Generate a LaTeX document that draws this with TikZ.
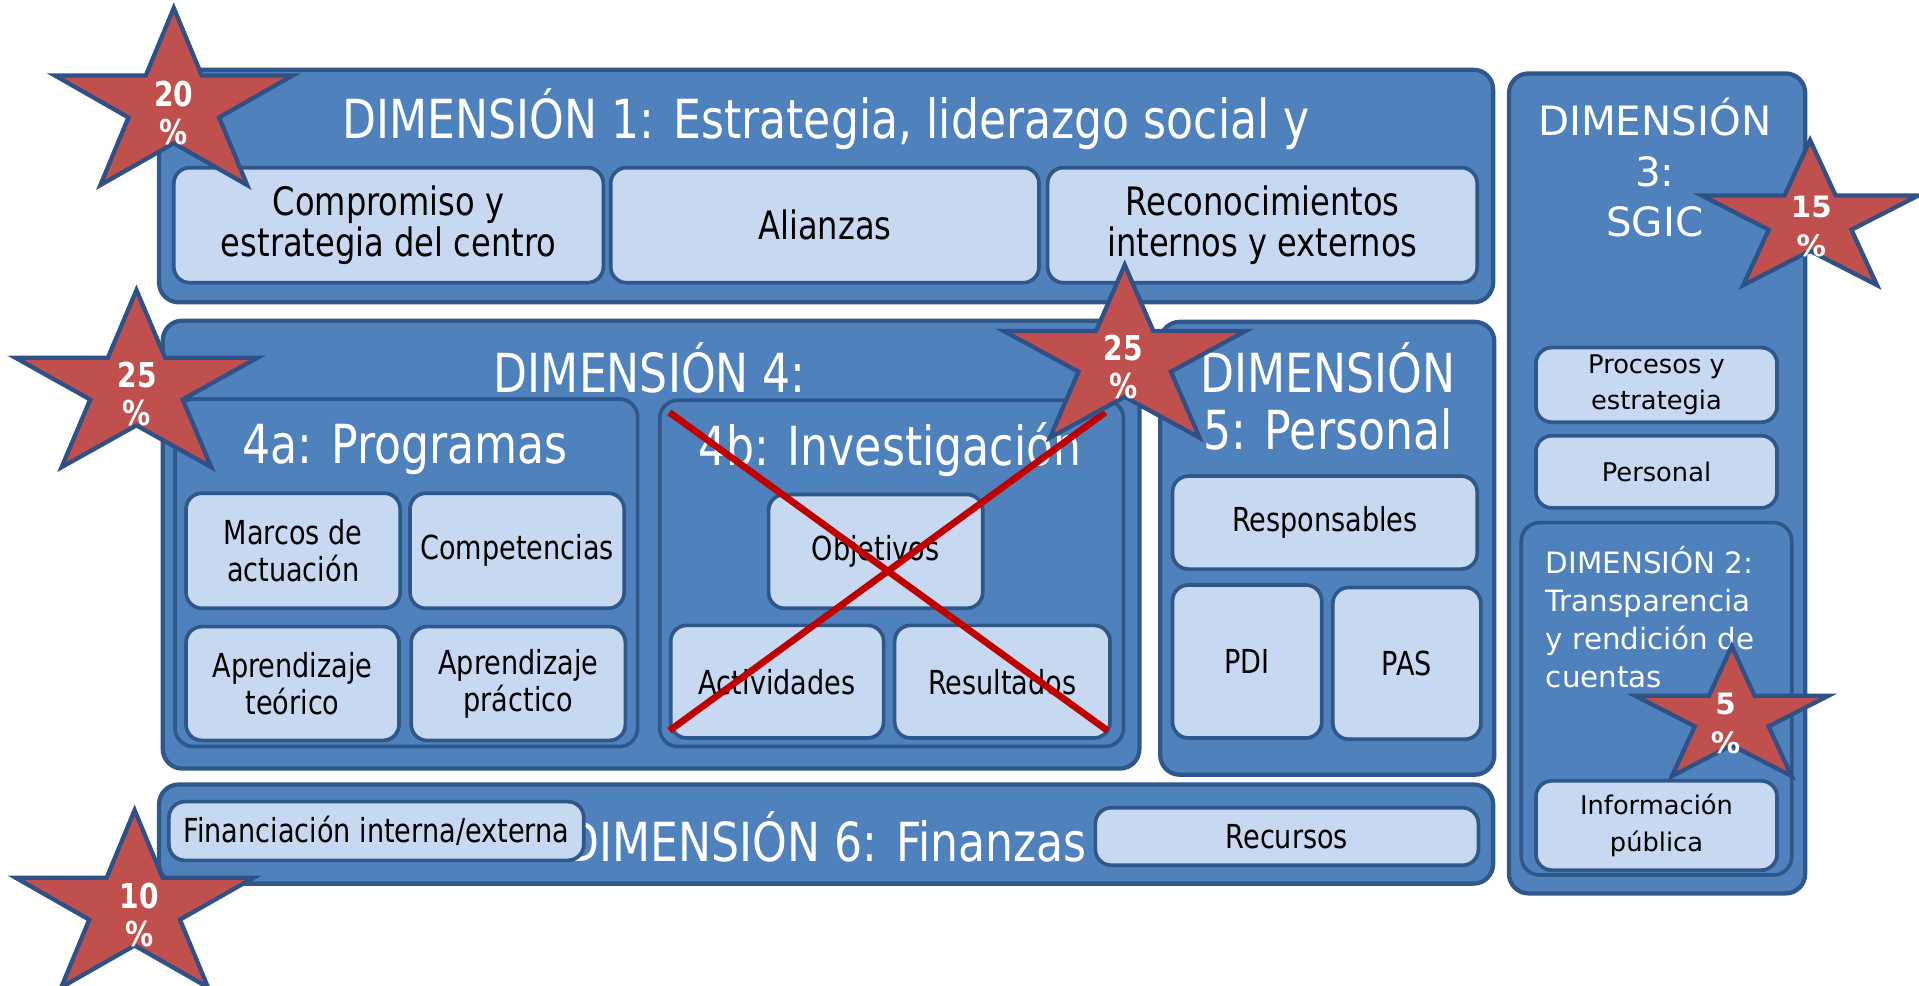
\documentclass[tikz,border=0pt]{standalone}
\usepackage{fontspec}
\setmainfont{DejaVu Sans}
\newfontfamily\narrowfont{DejaVu Sans}[FakeStretch=0.82]
\definecolor{dimension fill}{HTML}{4F81BD}
\definecolor{dimension border}{HTML}{30578A}
\definecolor{item fill}{HTML}{C6D9F1}
\definecolor{star fill}{HTML}{C0504D}
\definecolor{star border}{HTML}{2F5185}
\definecolor{cross color}{HTML}{C00000}
\newcommand\titlefont{\narrowfont\fontsize{44}{47}\selectfont}
\newcommand\itemfont{\narrowfont\fontsize{27}{30}\selectfont}
\newcommand\bigitemfont{\narrowfont\fontsize{32}{34}\selectfont}
\newcommand\sgictitlefont{\fontsize{33}{41}\selectfont}
\newcommand\sgicsubfont{\fontsize{24}{31}\selectfont}
\newcommand\sgicitemfont{\fontsize{21}{30}\selectfont}
\newcommand\starfont{\narrowfont\bfseries\fontsize{28}{31}\selectfont}
\newcommand\sgicstarfont{\bfseries\fontsize{24}{32}\selectfont}
\tikzset{
    x={1pt},
    y={-1pt},
    dimension box/.style={
        draw=dimension border, fill=dimension fill,
        line width={3.5pt},
        rounded corners={16pt},
        inner sep=0pt,
    },
    sub box/.style={
        dimension box,
        line width={3pt},
        rounded corners={15pt},
    },
    item box/.style={
        draw=dimension border, fill=item fill,
        line width={3pt},
        rounded corners={13pt},
        align=center,
        inner sep=0pt,
        font=\itemfont,
    },
    big item/.style={font=\bigitemfont},
    sgic item/.style={font=\sgicitemfont},
    title/.style={
        text=white,
        font=\titlefont,
        align=center,
        inner sep=0pt,
    },
    sgic title/.style={
        title,
        font=\sgictitlefont,
    },
    percent star/.style={
        fill=star fill,
        draw=star border,
        line width={3.5pt},
        line join=miter,
    },
    percent label/.style={
        text=white,
        font=\starfont,
        align=center,
        inner sep=0pt,
    },
    cross line/.style={
        draw=cross color,
        line width={5.5pt},
    },
    pics/star outline/.style={code={
        \path[percent star] (90:1) -- (126:0.382) -- (162:1) -- (198:0.382) -- (234:1)
            -- (270:0.382) -- (306:1) -- (342:0.382) -- (18:1) -- (54:0.382) -- cycle;
    }},
}

\begin{document}
\begin{tikzpicture}
\useasboundingbox (0,0) rectangle (1568,805);
% dimension 1
\node[dimension box, minimum width=1090, minimum height=190] (d1) at (675,152) {};
\node[title] (d1 title) at (675,97) {DIMENSIÓN 1: Estrategia, liderazgo social y};
\node[item box, big item, minimum width=351, minimum height=94] (compromiso) at (317.5,184) {Compromiso y\\estrategia del centro};
\node[item box, big item, minimum width=350, minimum height=94] (alianzas) at (674,184) {Alianzas};
\node[item box, big item, minimum width=351, minimum height=94] (reconocimientos) at (1031.5,184) {Reconocimientos\\internos y externos};
% dimension 4
\node[dimension box, minimum width=798, minimum height=366] (d4) at (532,445) {};
\node[title] (d4 title) at (531,301) {DIMENSIÓN 4:};
\node[sub box, minimum width=378, minimum height=284] (d4a) at (332,468) {};
\node[title] (d4a title) at (331,367) {4a: Programas};
\node[item box, minimum width=175, minimum height=94] (marcos) at (239.5,450) {Marcos de\\actuación};
\node[item box, minimum width=175, minimum height=94] (competencias) at (422.5,450) {Competencias};
\node[item box, minimum width=174, minimum height=93] (teorico) at (239,558.5) {Aprendizaje\\teórico};
\node[item box, minimum width=175, minimum height=93] (practico) at (423.5,558.5) {Aprendizaje\\práctico};
\node[sub box, minimum width=379, minimum height=283] (d4b) at (728.5,468.5) {};
\node[title] (d4b title) at (727,367) {4b: Investigación};
\node[item box, minimum width=175, minimum height=93] (objetivos) at (715.5,450.5) {Objetivos};
\node[item box, minimum width=174, minimum height=92] (actividades) at (635,557) {Actividades};
\node[item box, minimum width=176, minimum height=92] (resultados) at (819,557) {Resultados};
% dimension 5
\node[dimension box, minimum width=273, minimum height=370] (d5) at (1084.5,448) {};
\node[title] (d5 title) at (1085,324) {DIMENSIÓN\\5: Personal};
\node[item box, minimum width=249, minimum height=76] (responsables) at (1082.5,427) {Responsables};
\node[item box, minimum width=122, minimum height=125] (pdi) at (1019,540.5) {PDI};
\node[item box, minimum width=121, minimum height=124] (pas) at (1149.5,542) {PAS};
% dimension 6
\node[dimension box, minimum width=1090, minimum height=81] (d6) at (675,681.5) {};
\node[title] (d6 title) at (675,684) {DIMENSIÓN 6: Finanzas};
\node[item box, minimum width=339, minimum height=48] (financiacion) at (307.5,679) {Financiación interna/externa};
\node[item box, minimum width=313, minimum height=47] (recursos) at (1051.5,683.5) {Recursos};
% dimension 3 and 2
\node[dimension box, minimum width=242, minimum height=670] (d3) at (1354,395) {};
\node[sgic title] (d3 title) at (1352,137) {DIMENSIÓN\\3:\\SGIC};
\node[item box, sgic item, minimum width=197, minimum height=61] (procesos) at (1353.5,314.5) {Procesos y\\estrategia};
\node[item box, sgic item, minimum width=197, minimum height=59] (personal) at (1353.5,385.5) {Personal};
\node[sub box, minimum width=221, minimum height=288] (d2) at (1353.5,571) {};
\node[sgic title, font=\sgicsubfont, align=left, anchor=west] (d2 title) at (1263,504) {DIMENSIÓN 2:\\Transparencia\\y rendición de\\cuentas};
\node[item box, sgic item, minimum width=197, minimum height=73] (informacion) at (1353.5,674.5) {Información\\pública};
% crossed out
\draw[cross line] (547,337) -- (905,597);
\draw[cross line] (547,597) -- (903,337);
% stars
\pic[xscale=102, yscale=-80] at (142,86.5) {star outline};
\node[percent label] (p d1) at (142,92) {20\\\%};
\pic[xscale=104, yscale=-80] at (111.5,317) {star outline};
\node[percent label] (p d4) at (112,322) {25\\\%};
\pic[xscale=104, yscale=-78] at (919,294.5) {star outline};
\node[percent label] (p d5) at (918,300) {25\\\%};
\pic[xscale=93, yscale=-65.5] at (1479,180) {star outline};
\node[percent label, font=\sgicstarfont] (p d3) at (1480,185) {15\\\%};
\pic[xscale=83, yscale=-58.6] at (1415,586.6) {star outline};
\node[percent label, font=\sgicstarfont] (p d2) at (1410,591) {5\\\%};
\pic[xscale=102, yscale=-80] at (110,742) {star outline};
\node[percent label] (p d6) at (114,748) {10\\\%};
\end{tikzpicture}
\end{document}
